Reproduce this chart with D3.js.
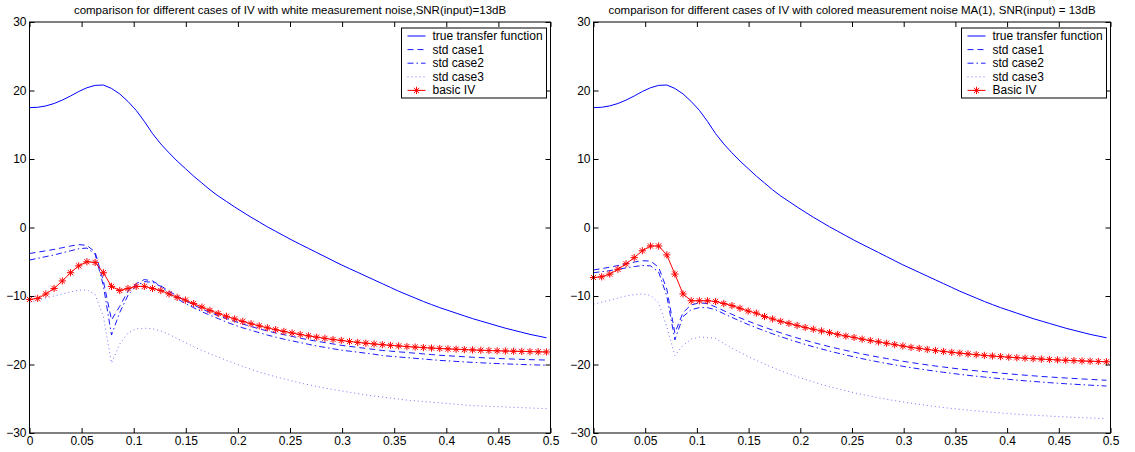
<!DOCTYPE html>
<html>
<head>
<meta charset="utf-8">
<script src="https://d3js.org/d3.v7.min.js"></script>
<style>
  body { margin: 0; background: #fff; }
  text { font-family: "Liberation Sans", Arial, Helvetica, sans-serif; }
</style>
</head>
<body>
<script>
// frequency grid (normalised), same for every curve
var freq = [0, .0079, .0157, .0236, .0315, .0394, .0472, .0551, .0630, .0709,
  .0787, .0866, .0945, .1024, .1102, .1181, .1260, .1339, .1417, .1496,
  .1575, .1654, .1732, .1811, .1890, .1969, .2047, .2126, .2205, .2283,
  .2362, .2441, .2520, .2598, .2677, .2756, .2835, .2913, .2992, .3071,
  .3150, .3228, .3307, .3386, .3465, .3543, .3622, .3701, .3780, .3858,
  .3937, .4016, .4094, .4173, .4252, .4331, .4409, .4488, .4567, .4646,
  .4724, .4803, .4882, .4961];

var xTicks = [0, 0.05, 0.1, 0.15, 0.2, 0.25, 0.3, 0.35, 0.4, 0.45, 0.5];
var yTicks = [-30, -20, -10, 0, 10, 20, 30];

// true transfer function (dB), same in both plots
var trueTF = [17.5, 17.55, 17.75, 18.1, 18.6, 19.2, 19.85, 20.4, 20.75, 20.8,
  20.3, 19.5, 18.4, 17.1, 15.5, 13.7, 12.2, 10.9, 9.7, 8.6,
  7.5, 6.5, 5.5, 4.6, 3.8, 3.0, 2.25, 1.5, 0.8, 0.1,
  -0.55, -1.2, -1.85, -2.45, -3.05, -3.65, -4.25, -4.85, -5.45, -6.0,
  -6.55, -7.1, -7.65, -8.2, -8.75, -9.3, -9.8, -10.3, -10.8, -11.25,
  -11.7, -12.1, -12.5, -12.9, -13.3, -13.65, -14.0, -14.35, -14.7, -15.0,
  -15.3, -15.6, -15.85, -16.1];

// white measurement noise
var whiteCase1 = [-3.8, -3.6, -3.4, -3.2, -2.95, -2.7, -2.5, -2.6, -3.6, -7.8,
  -13.5, -11.5, -9.3, -8.2, -7.6, -7.8, -8.5, -9.3, -10.0, -10.7,
  -11.3, -11.9, -12.4, -12.85, -13.3, -13.7, -14.1, -14.45, -14.8, -15.1,
  -15.4, -15.65, -15.9, -16.15, -16.4, -16.6, -16.8, -17.0, -17.2, -17.35,
  -17.5, -17.65, -17.8, -17.95, -18.05, -18.15, -18.25, -18.35, -18.45, -18.55,
  -18.65, -18.72, -18.8, -18.87, -18.94, -19.0, -19.06, -19.11, -19.16, -19.21,
  -19.25, -19.29, -19.32, -19.35];
var whiteCase2 = [-4.75, -4.5, -4.25, -4.0, -3.7, -3.4, -3.1, -3.0, -3.9, -8.5,
  -15.7, -12.4, -9.9, -8.5, -7.9, -8.0, -8.6, -9.6, -10.4, -11.1,
  -11.7, -12.3, -12.8, -13.3, -13.8, -14.25, -14.65, -15.0, -15.35, -15.7,
  -16.0, -16.3, -16.55, -16.8, -17.05, -17.3, -17.5, -17.7, -17.9, -18.05,
  -18.2, -18.35, -18.5, -18.7, -18.8, -18.9, -19.0, -19.1, -19.2, -19.3,
  -19.4, -19.47, -19.55, -19.62, -19.69, -19.75, -19.81, -19.86, -19.91, -19.96,
  -20.0, -20.04, -20.07, -20.1];
var whiteCase3 = [-10.9, -10.6, -10.3, -10.0, -9.7, -9.4, -9.15, -9.1, -9.8, -13.0,
  -19.8, -17.0, -15.4, -14.8, -14.7, -14.8, -15.1, -15.6, -16.2, -16.8,
  -17.4, -17.95, -18.45, -18.9, -19.4, -19.85, -20.3, -20.7, -21.1, -21.45,
  -21.8, -22.1, -22.4, -22.7, -22.95, -23.2, -23.45, -23.65, -23.85, -24.05,
  -24.25, -24.45, -24.6, -24.75, -24.9, -25.05, -25.2, -25.3, -25.4, -25.5,
  -25.6, -25.7, -25.8, -25.9, -26.0, -26.05, -26.1, -26.15, -26.2, -26.25,
  -26.3, -26.35, -26.4, -26.45];
var whiteBasic = [-10.5, -10.35, -9.7, -8.9, -7.8, -6.6, -5.6, -5.0, -5.1, -6.6,
  -8.6, -9.2, -8.9, -8.6, -8.6, -8.9, -9.2, -9.7, -10.2, -10.6,
  -11.1, -11.62, -12.1, -12.55, -12.96, -13.35, -13.71, -14.05, -14.36, -14.65,
  -14.92, -15.17, -15.4, -15.62, -15.82, -16.01, -16.18, -16.35, -16.49, -16.64,
  -16.77, -16.89, -17.0, -17.11, -17.2, -17.29, -17.38, -17.46, -17.53, -17.6,
  -17.66, -17.72, -17.77, -17.83, -17.87, -17.92, -17.96, -18.0, -18.03, -18.06,
  -18.09, -18.12, -18.15, -18.17];

// coloured measurement noise MA(1)
var colCase1 = [-6.2, -6.0, -5.8, -5.55, -5.3, -5.05, -4.85, -4.9, -5.8, -9.0,
  -15.4, -12.4, -11.3, -11.0, -11.1, -11.6, -12.15, -12.68, -13.19, -13.67,
  -14.13, -14.56, -14.98, -15.38, -15.76, -16.12, -16.46, -16.79, -17.1, -17.4,
  -17.68, -17.95, -18.21, -18.46, -18.69, -18.92, -19.13, -19.33, -19.53, -19.71,
  -19.89, -20.06, -20.22, -20.37, -20.52, -20.66, -20.79, -20.92, -21.04, -21.15,
  -21.26, -21.36, -21.46, -21.56, -21.65, -21.74, -21.82, -21.9, -21.97, -22.04,
  -22.11, -22.17, -22.24, -22.3];
var colCase2 = [-6.6, -6.45, -6.3, -6.1, -5.9, -5.7, -5.55, -5.6, -6.5, -10.0,
  -16.4, -13.0, -12.0, -11.7, -11.7, -12.0, -12.58, -13.13, -13.65, -14.16,
  -14.63, -15.09, -15.52, -15.94, -16.33, -16.71, -17.06, -17.41, -17.73, -18.04,
  -18.34, -18.62, -18.89, -19.15, -19.39, -19.63, -19.85, -20.06, -20.26, -20.46,
  -20.64, -20.81, -20.98, -21.14, -21.29, -21.44, -21.58, -21.71, -21.83, -21.95,
  -22.07, -22.17, -22.28, -22.38, -22.47, -22.56, -22.65, -22.73, -22.81, -22.88,
  -22.95, -23.02, -23.08, -23.15];
var colCase3 = [-11.2, -10.9, -10.6, -10.3, -10.0, -9.8, -9.7, -9.9, -11.0, -14.5,
  -18.7, -17.2, -16.3, -16.0, -16.05, -16.2, -16.92, -17.6, -18.24, -18.84,
  -19.41, -19.94, -20.44, -20.92, -21.36, -21.78, -22.18, -22.55, -22.91, -23.24,
  -23.55, -23.84, -24.12, -24.38, -24.62, -24.86, -25.07, -25.28, -25.47, -25.65,
  -25.82, -25.98, -26.14, -26.28, -26.42, -26.54, -26.66, -26.77, -26.88, -26.98,
  -27.07, -27.16, -27.25, -27.33, -27.4, -27.47, -27.53, -27.6, -27.66, -27.71,
  -27.76, -27.81, -27.86, -27.9];
var colBasic = [-7.3, -7.2, -6.8, -6.1, -5.3, -4.4, -3.4, -2.7, -2.7, -4.0,
  -6.8, -9.7, -10.7, -10.7, -10.7, -10.8, -11.1, -11.4, -11.8, -12.2,
  -12.5, -13.0, -13.35, -13.7, -14.0, -14.3, -14.6, -14.85, -15.1, -15.35,
  -15.6, -15.85, -16.05, -16.3, -16.5, -16.7, -16.9, -17.1, -17.3, -17.5,
  -17.65, -17.8, -17.95, -18.1, -18.22, -18.34, -18.46, -18.57, -18.67, -18.76,
  -18.85, -18.93, -19.01, -19.08, -19.15, -19.21, -19.27, -19.33, -19.38, -19.43,
  -19.48, -19.52, -19.56, -19.6];

var titles = ["comparison for different cases of IV with white measurement noise,SNR(input)=13dB",
  "comparison for different cases of IV with colored measurement noise MA(1), SNR(input) = 13dB"];
var labelsWhite = ["true transfer function", "std case1", "std case2", "std case3", "basic IV"];
var labelsColored = ["true transfer function", "std case1", "std case2", "std case3", "Basic IV"];

// line look for the five entries (MATLAB style)
var styles = [
  {color: "#0000ff", dash: null, opacity: 1},
  {color: "#0000ff", dash: "6,4", opacity: 0.9},
  {color: "#0000ff", dash: "6,3,1.5,3", opacity: 0.9},
  {color: "#0000ff", dash: "1,3", opacity: 0.55},
  {color: "#ff0000", dash: null, opacity: 1, marker: true}
];

// asterisk marker path
function star(cx, cy){
  var s = 3.6, a = 2.6;
  return "M" + (cx - s) + "," + cy + "H" + (cx + s) +
    "M" + cx + "," + (cy - s) + "V" + (cy + s) +
    "M" + (cx - a) + "," + (cy - a) + "L" + (cx + a) + "," + (cy + a) +
    "M" + (cx - a) + "," + (cy + a) + "L" + (cx + a) + "," + (cy - a);
}

function drawPanel(svg, x0, x1, title, series, labels){
  var top = 22, bottom = 433;
  var x = d3.scaleLinear().domain([0, 0.5]).range([x0, x1]);
  var y = d3.scaleLinear().domain([-30, 30]).range([bottom, top]);
  var g = svg.append("g");

  var line = d3.line()
    .x(function(d, i){ return x(freq[i]); })
    .y(function(d){ return y(d); });

  series.forEach(function(vals, k){
    var st = styles[k];
    g.append("path")
      .attr("d", line(vals))
      .attr("fill", "none")
      .attr("stroke", st.color)
      .attr("stroke-width", 1)
      .attr("stroke-opacity", st.opacity)
      .attr("stroke-dasharray", st.dash);
    if (st.marker) {
      g.append("g").selectAll("path")
        .data(vals)
        .enter().append("path")
        .attr("d", function(d, i){ return star(x(freq[i]), y(d)); })
        .attr("fill", "none")
        .attr("stroke", st.color)
        .attr("stroke-width", 1);
    }
  });

  // axes with inward ticks on all four sides
  var fmt = d3.format("~g");
  function style(a){
    a.selectAll("text").attr("font-size", 12).attr("fill", "#000");
    a.selectAll("line").attr("stroke", "#000");
    a.select(".domain").remove();
  }
  g.append("g").attr("transform", "translate(0," + bottom + ")")
    .call(d3.axisBottom(x).tickValues(xTicks).tickFormat(fmt).tickSizeInner(-5).tickSizeOuter(0).tickPadding(3))
    .call(style);
  g.append("g").attr("transform", "translate(0," + top + ")")
    .call(d3.axisTop(x).tickValues(xTicks).tickFormat("").tickSizeInner(-5).tickSizeOuter(0))
    .call(style);
  g.append("g").attr("transform", "translate(" + x0 + ",0)")
    .call(d3.axisLeft(y).tickValues(yTicks).tickFormat(fmt).tickSizeInner(-5).tickSizeOuter(0).tickPadding(3))
    .call(style);
  g.append("g").attr("transform", "translate(" + x1 + ",0)")
    .call(d3.axisRight(y).tickValues(yTicks).tickFormat("").tickSizeInner(-5).tickSizeOuter(0))
    .call(style);
  g.selectAll(".tick text").attr("font-family", "Liberation Sans, Arial, sans-serif");

  g.append("rect") // axes box
    .attr("x", x0).attr("y", top)
    .attr("width", x1 - x0).attr("height", bottom - top)
    .attr("fill", "none").attr("stroke", "#000").attr("stroke-width", 1);

  g.append("text")
    .attr("x", (x0 + x1) / 2).attr("y", 14)
    .attr("text-anchor", "middle")
    .attr("font-size", 11.5)
    .text(title);

  // legend
  var lw = 145, lh = 70, lx = x1 - lw - 4, ly = 28;
  var leg = g.append("g");
  leg.append("rect")
    .attr("x", lx).attr("y", ly).attr("width", lw).attr("height", lh)
    .attr("fill", "#fff").attr("stroke", "#000").attr("stroke-width", 1);
  labels.forEach(function(lab, k){
    var st = styles[k], ry = ly + 8 + k * 13.6;
    leg.append("line")
      .attr("x1", lx + 6).attr("x2", lx + 24)
      .attr("y1", ry).attr("y2", ry)
      .attr("stroke", st.color)
      .attr("stroke-opacity", st.opacity)
      .attr("stroke-dasharray", st.dash);
    if (st.marker) {
      leg.append("path").attr("d", star(lx + 15, ry))
        .attr("fill", "none").attr("stroke", st.color);
    }
    leg.append("text")
      .attr("x", lx + 31).attr("y", ry + 4)
      .attr("font-size", 12)
      .text(lab);
  });
}

window.onload = function(){
  var w = 1135, h = 452;
  var svg = d3.select("body").append("svg")
    .attr("width", w)
    .attr("height", h)
    .style("background-color", "#fff");

  drawPanel(svg, 29.5, 550.5, titles[0],
    [trueTF, whiteCase1, whiteCase2, whiteCase3, whiteBasic], labelsWhite);
  drawPanel(svg, 593.5, 1110.5, titles[1],
    [trueTF, colCase1, colCase2, colCase3, colBasic], labelsColored);
};
</script>
</body>
</html>
